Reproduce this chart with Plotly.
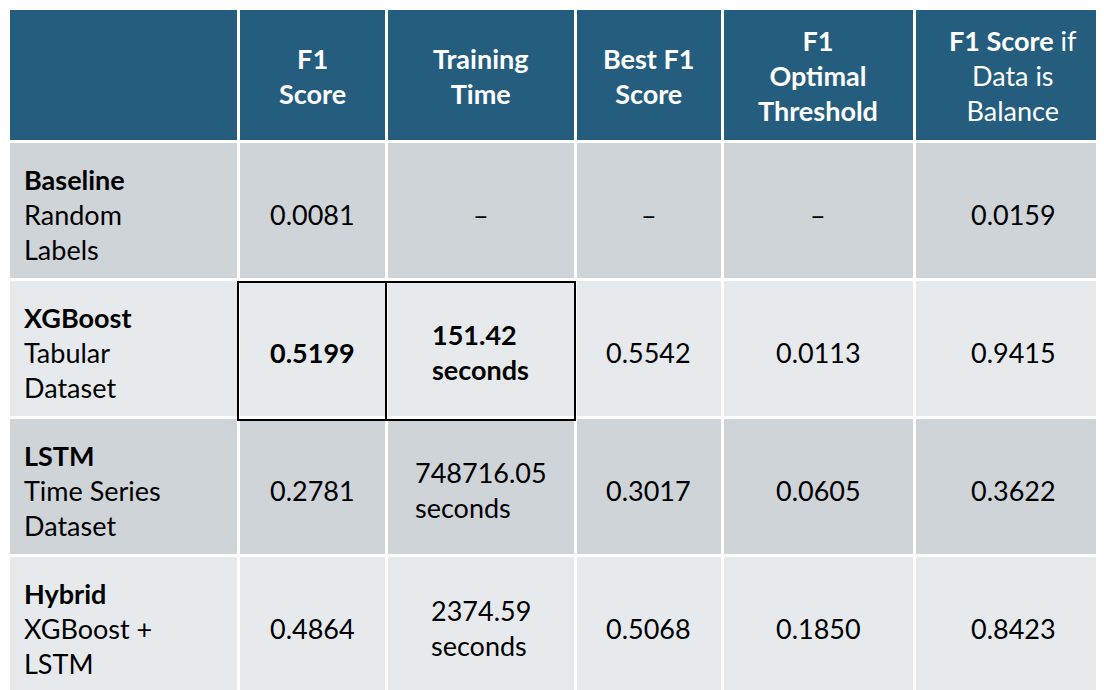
import plotly.graph_objects as go

headers = ["", "<b>F1</b><br><b>Score</b>", "<b>Training</b><br><b>Time</b>", "<b>Best F1</b><br><b>Score</b>",
           "<b>F1</b><br><b>Optimal</b><br><b>Threshold</b>", "<b>F1 Score</b> if<br>Data is<br>Balance"]
models = ["<b>Baseline</b><br>Random<br>Labels", "<b>XGBoost</b><br>Tabular<br>Dataset",
          "<b>LSTM</b><br>Time Series<br>Dataset", "<b>Hybrid</b><br>XGBoost +<br>LSTM"]
f1_score = ["0.0081", "<b>0.5199</b>", "0.2781", "0.4864"]
training_time = ["–", "<b>151.42</b><br><b>seconds</b>", "748716.05<br>seconds", "2374.59<br>seconds"]
best_f1 = ["–", "0.5542", "0.3017", "0.5068"]
optimal_threshold = ["–", "0.0113", "0.0605", "0.1850"]
f1_balanced = ["0.0159", "0.9415", "0.3622", "0.8423"]

col_widths = [230, 148, 189, 147, 192, 198]
HEADER_H, ROW_H = 133, 138
W, H = 1104, 690
FONT = "Lato"
FS = 27

cols = [models, f1_score, training_time, best_f1, optimal_threshold, f1_balanced]
row_colors = ["#CFD4D9", "#E7EAED", "#CFD4D9", "#E7EAED"]
n_rows = len(models)

fig = go.Figure(go.Table(
    columnwidth=col_widths,
    header=dict(values=[""] * 6, fill_color="#245D7E", height=HEADER_H,
                line=dict(color="white", width=3)),
    cells=dict(values=[[""] * n_rows] * 6, fill_color=[row_colors] * 6, height=ROW_H,
               line=dict(color="white", width=3)),
))

tw = sum(col_widths)
edges = [sum(col_widths[:i]) / tw for i in range(len(col_widths) + 1)]

def y_center(px):
    return 1 - px / H

# header text
for j, h in enumerate(headers):
    if not h:
        continue
    fig.add_annotation(x=(edges[j] + edges[j + 1]) / 2, y=y_center(HEADER_H / 2 + 1),
                       xref="paper", yref="paper", text=h, showarrow=False,
                       xanchor="center", yanchor="middle", align="center",
                       font=dict(color="white", size=FS, family=FONT))
# body text
for j, c in enumerate(cols):
    for i, v in enumerate(c):
        yc = y_center(HEADER_H + 4 + ROW_H * i + ROW_H / 2)
        if j == 0:
            fig.add_annotation(x=edges[0] + 14 / W, y=yc, xref="paper", yref="paper", text=v,
                               showarrow=False, xanchor="left", yanchor="middle", align="left",
                               font=dict(color="black", size=FS, family=FONT))
        else:
            fig.add_annotation(x=(edges[j] + edges[j + 1]) / 2, y=yc, xref="paper", yref="paper",
                               text=v, showarrow=False, xanchor="center", yanchor="middle",
                               align="center" if "–" in v or "<br>" not in v else "left",
                               font=dict(color="black", size=FS, family=FONT))

# highlight box around XGBoost F1 / training time
y_top = 1 - (HEADER_H + 3 + ROW_H) / H
y_bot = 1 - (HEADER_H + 3 + 2 * ROW_H) / H
fig.add_shape(type="rect", xref="paper", yref="paper", x0=edges[1], x1=edges[3], y0=y_bot, y1=y_top,
              line=dict(color="black", width=2))
fig.add_shape(type="line", xref="paper", yref="paper", x0=edges[2], x1=edges[2], y0=y_bot, y1=y_top,
              line=dict(color="black", width=2))

fig.update_layout(width=W, height=H, margin=dict(l=0, r=0, t=0, b=0), paper_bgcolor="white")
fig.write_html("out.html")
